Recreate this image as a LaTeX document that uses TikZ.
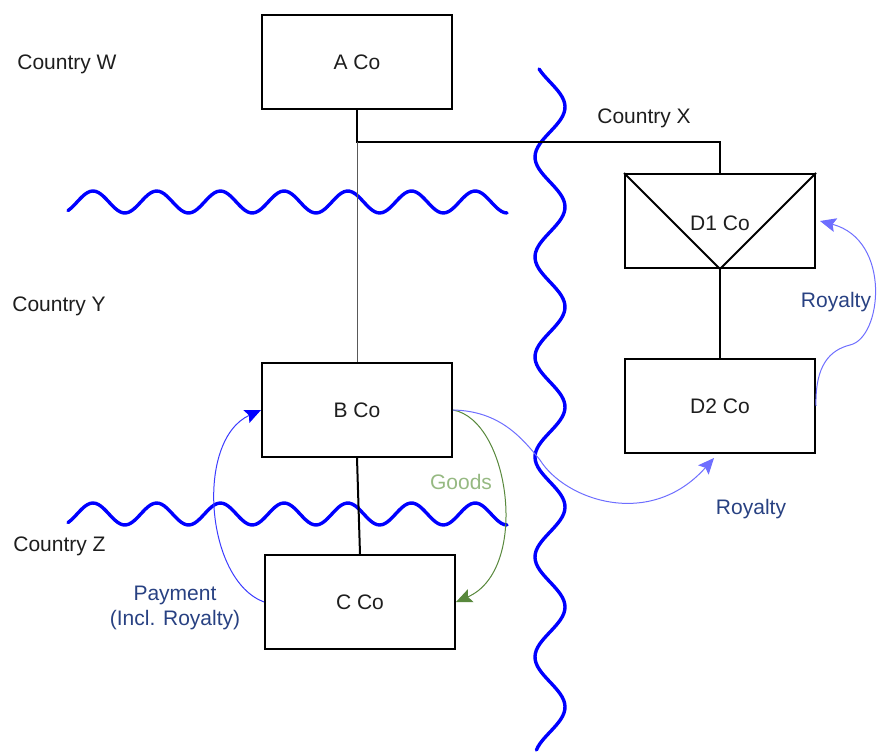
\documentclass[tikz,border=0pt]{standalone}
\usepackage{fontspec}
\setmainfont{Liberation Sans}
\usetikzlibrary{arrows.meta}
\definecolor{wavclr}{RGB}{0,0,255}
\definecolor{payclr}{RGB}{60,60,255}
\definecolor{royclr}{RGB}{110,110,255}
\definecolor{goodsclr}{RGB}{88,136,60}
\definecolor{goodtxt}{RGB}{150,185,130}
\definecolor{labclr}{RGB}{40,65,130}
\definecolor{txtclr}{RGB}{30,30,30}
\tikzset{
  co/.style={rectangle,draw=black,line width=1pt,fill=white,
             minimum width=95pt,minimum height=47pt,inner sep=0pt,text=txtclr},
  wave/.style={draw=wavclr,line width=1.7pt,line join=round,line cap=round},
  tie/.style={line width=1pt},
  thinline/.style={draw=black!65,line width=0.5pt},
  flow/.style={line width=0.5pt,-{Stealth[length=8pt,width=7pt,inset=1.5pt]}},
  ctry/.style={anchor=west,text=txtclr,inner sep=0pt},
  flowlab/.style={text=labclr,align=center,inner sep=0pt},
}

\begin{document}
\begin{tikzpicture}[x=0.5pt,y=-0.5pt,
    every node/.style={font=\fontsize{10.5}{12.5}\selectfont}]
\useasboundingbox (0,0) rectangle (878,753);

% borders
\draw[wave] plot[domain=68:507,samples=160] (\x,{202-11*cos((\x-93)/63.7*360)});
\draw[wave] plot[domain=68:507,samples=160] (\x,{514-11*cos((\x-93)/63.7*360)});
\draw[wave] plot[domain=69:750,samples=220] ({550+15*cos((\x-107)/100*360)},\x);

% countries
\node[ctry] (cw) at (17,64) {Country W};
\node[ctry] (cx) at (597,118) {Country X};
\node[ctry] (cy) at (12,306) {Country Y};
\node[ctry] (cz) at (13,546) {Country Z};

% companies
\node[co] (a) at (357,62) {A Co};
\node[co] (b) at (357,410) {B Co};
\node[co] (c) at (360,602) {C Co};
\node[co] (d1) at (720,221) {};
\node[text=txtclr] (d1t) at (720,223) {D1 Co};
\node[co] (d2) at (720,406) {D2 Co};
\draw[tie] (d1.north west) -- (d1.south) -- (d1.north east);

% ownership
\coordinate (j) at (357,142);
\coordinate (jx) at (720,142);
\draw[tie] (a.south) -- (j) -- (jx) -- (d1.north);
\draw[thinline] (j) -- (b.north);
\draw[tie] (b.south) -- (c.north);
\draw[tie] (d1.south) -- (d2.north);

% flows
\draw[line width=0.5pt,draw=payclr,-{Stealth[length=8pt,width=7pt,inset=1.5pt,color=wavclr]}]
  (c.west) .. controls (205,580) and (195,440) .. (b.west);
\node[flowlab] (pay) at (175,608) {Payment\\(Incl. Royalty)};
\draw[flow,draw=goodsclr] (b.east) .. controls (510,420) and (530,570) .. (c.east);
\node[flowlab,text=goodtxt] (gd) at (461,482) {Goods};
\draw[flow,draw=royclr] (b.east) .. controls (500,411) and (522,438) .. (540,460)
  .. controls (565,500) and (650,530) .. ([xshift=-3pt,yshift=-2pt]d2.south);
\node[flowlab] (roy1) at (751,509) {Royalty};
\draw[flow,draw=royclr] (d2.east) .. controls (815,365) and (830,350) .. (850,345)
  .. controls (882,338) and (892,240) .. ([xshift=2pt]d1.east);
\node[flowlab] (roy2) at (836,302) {Royalty};
\end{tikzpicture}
\end{document}
